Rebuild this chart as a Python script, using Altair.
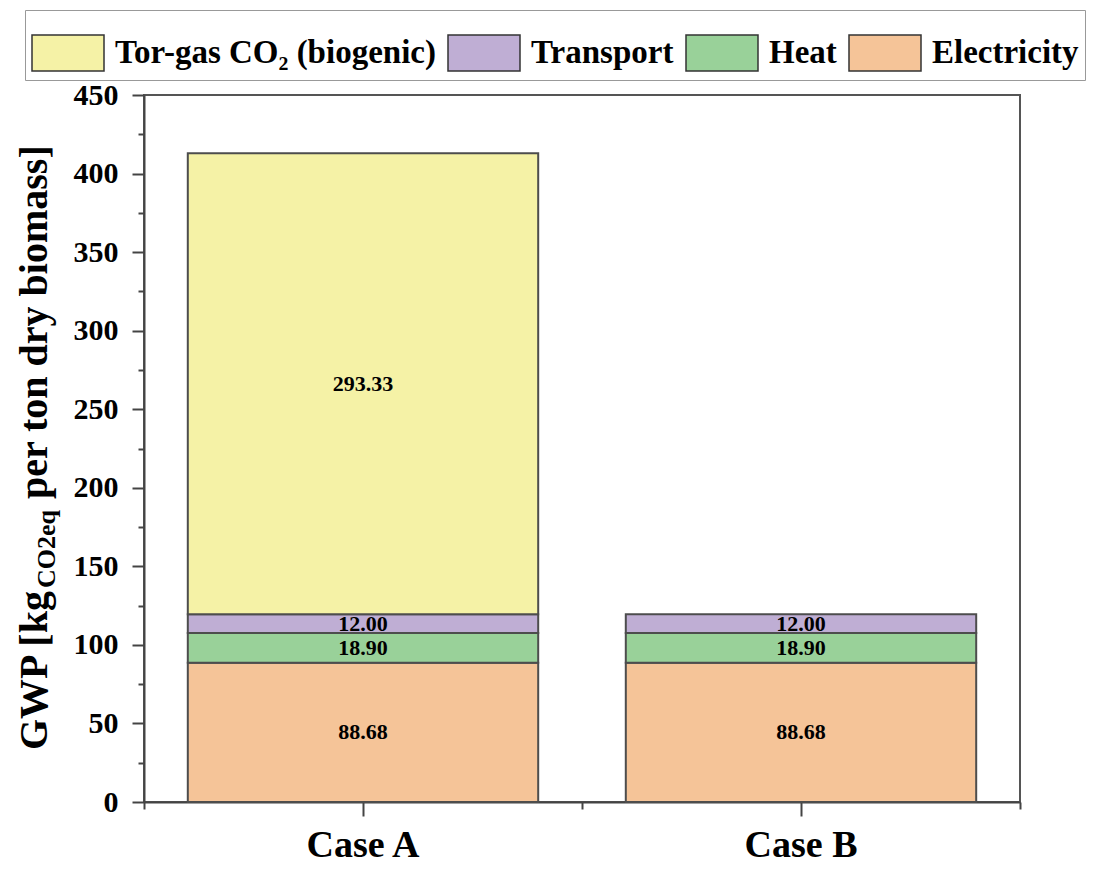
import altair as alt
import pandas as pd

F = "Liberation Serif"

cases = ["Case A", "Case A", "Case A", "Case A", "Case B", "Case B", "Case B"]
categories = ["Electricity", "Heat", "Transport", "Tor-gas CO₂ (biogenic)",
              "Electricity", "Heat", "Transport"]
values = [88.68, 18.90, 12.00, 293.33, 88.68, 18.90, 12.00]
stack_order = [1, 2, 3, 4, 1, 2, 3]
legend_order = ["Tor-gas CO₂ (biogenic)", "Transport", "Heat", "Electricity"]
colors = ["#F5F2A6", "#BFAED4", "#99D199", "#F5C498"]
y_ticks = list(range(0, 451, 25))

df = pd.DataFrame({"case": cases, "category": categories,
                   "value": values, "order": stack_order})

x_scale = alt.Scale(paddingInner=0.2, paddingOuter=0.1)
x_scale_full = alt.Scale(paddingInner=0, paddingOuter=0)
y_scale = alt.Scale(domain=[0, 450], nice=False)

y_axis = alt.Axis(
    title=None, values=y_ticks,
    labelExpr="datum.value % 50 === 0 ? datum.label : ''",
    tickSize={"condition": {"test": "datum.value % 50 !== 0", "value": 6}, "value": 12},
    tickWidth=2, tickColor="#444", domainColor="#444", domainWidth=2,
    labelFont=F, labelFontSize=30, labelFontWeight="bold", labelColor="black",
    labelPadding=14, grid=False, labelOverlap=False,
)

x_axis = alt.Axis(
    title=None, labelAngle=0, labelFont=F, labelFontSize=38, labelFontWeight="bold",
    labelColor="black", labelPadding=10, tickSize=14, tickWidth=2, tickColor="#444",
    domainColor="#444", domainWidth=2, grid=False,
)

x_minor_axis = alt.Axis(
    title=None, labels=False, domain=False, tickBand="extent", tickSize=7,
    tickWidth=2, tickColor="#444", grid=False, orient="bottom",
)

legend = alt.Legend(
    title=None, orient="none", legendX=-119, legendY=-85, direction="horizontal",
    columns=4, symbolType="M-1,-0.5H1V0.5H-1Z", symbolSize=5184,
    symbolStrokeColor="#333", symbolStrokeWidth=1.5, symbolOpacity=1,
    labelFont=F, labelFontSize=33, labelFontWeight="bold", labelColor="black",
    labelLimit=600, labelOffset=10, columnPadding=9, padding=6,
    strokeColor="#999", fillColor="white",
)

bars = alt.Chart(df).mark_bar(stroke="#4d4d4d", strokeWidth=2).encode(
    x=alt.X("case:N", scale=x_scale, axis=x_axis),
    y=alt.Y("value:Q", stack="zero", scale=y_scale, axis=y_axis),
    color=alt.Color("category:N", scale=alt.Scale(domain=legend_order, range=colors),
                    legend=legend),
    order=alt.Order("order:Q", sort="ascending"),
)

labels = alt.Chart(df).transform_stack(
    stack="value", groupby=["case"], sort=[alt.SortField("order")], as_=["y0", "y1"]
).transform_calculate(mid="(datum.y0 + datum.y1) / 2").mark_text(
    font=F, fontSize=22, fontWeight="bold", color="black", baseline="middle"
).encode(
    x=alt.X("case:N", scale=x_scale_full, axis=x_minor_axis),
    y=alt.Y("mid:Q", scale=y_scale, axis=y_axis),
    text=alt.Text("value:Q", format=".2f"),
)

dummy = pd.DataFrame({"t": [0]})
t1 = alt.Chart(dummy).mark_text(
    text="GWP [kg", angle=270, align="left", baseline="alphabetic",
    font=F, fontSize=40, fontWeight="bold", color="black"
).encode(x=alt.value(-97), y=alt.value(655))
t2 = alt.Chart(dummy).mark_text(
    text="CO2eq", angle=270, align="left", baseline="alphabetic",
    font=F, fontSize=26, fontWeight="bold", color="black"
).encode(x=alt.value(-89), y=alt.value(493))
t3 = alt.Chart(dummy).mark_text(
    text="per ton dry biomass]", angle=270, align="left", baseline="alphabetic",
    font=F, fontSize=40, fontWeight="bold", color="black"
).encode(x=alt.value(-97), y=alt.value(404))

chart = alt.layer(bars, labels, t1, t2, t3).resolve_scale(
    x="independent"
).resolve_axis(x="independent").properties(
    width=876, height=707,
    autosize=alt.AutoSizeParams(type="none"),
    padding={"left": 144, "top": 95, "right": 77, "bottom": 68},
).configure(
    font=F, background="white"
).configure_view(stroke="#555", strokeWidth=2)

chart.save("out.html", embed_options={"renderer": "svg", "actions": False})
